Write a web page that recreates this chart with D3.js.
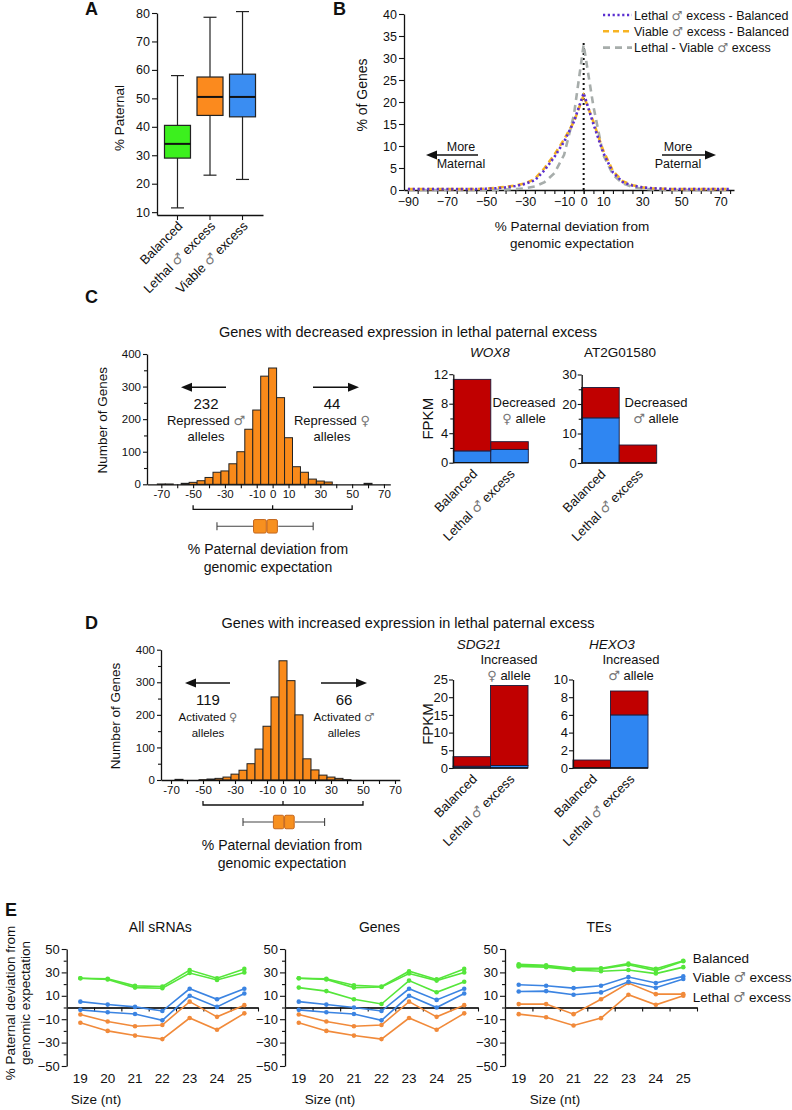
<!DOCTYPE html>
<html>
<head>
<meta charset="utf-8">
<script src="https://cdn.jsdelivr.net/npm/d3@7"></script>
<style>
  body { margin: 0; background: #fff; }
  svg text { font-family: "Liberation Sans", Arial, sans-serif; fill: #111; }
</style>
</head>
<body>
<svg id="fig" width="792" height="1110"></svg>
<script>
// ---------- panel A : boxplots of % paternal
const boxGroups = ["Balanced", "Lethal ♂ excess", "Viable ♂ excess"];
const boxLow = [11.5, 23, 21.5];
const boxQ1 = [29, 44, 43.5];
const boxMedian = [34, 50.5, 50.5];
const boxQ3 = [40.5, 57.5, 58.5];
const boxHigh = [58, 78.5, 80.5];
const aTicks = [10, 20, 30, 40, 50, 60, 70, 80];

// ---------- panel B : % of genes vs deviation
const devX = [-90, -85, -80, -75, -70, -65, -60, -55, -50, -45, -40, -35, -30, -25, -20, -15, -10, -5,
  0, 5, 10, 15, 20, 25, 30, 35, 40, 45, 50, 55, 60, 65, 70, 75];
const lethalVsBal = [0.2, 0.2, 0.2, 0.2, 0.2, 0.2, 0.2, 0.2, 0.3, 0.4, 0.6, 0.9, 1.4, 2.2, 4.5, 7.5, 11, 15.5,
  22, 15, 8.5, 4, 1.8, 1, 0.6, 0.4, 0.3, 0.2, 0.2, 0.2, 0.2, 0.2, 0.2, 0.2];
const viableVsBal = [0.2, 0.2, 0.2, 0.2, 0.2, 0.2, 0.2, 0.2, 0.3, 0.5, 0.7, 1.0, 1.5, 2.5, 5, 8, 11.5, 15.5,
  21.5, 15.5, 9, 4.3, 2, 1.1, 0.6, 0.4, 0.3, 0.2, 0.2, 0.2, 0.2, 0.2, 0.2, 0.2];
const lethalVsViable = [0, 0, 0, 0, 0, 0, 0, 0, 0, 0.05, 0.1, 0.2, 0.4, 0.8, 1.8, 3.8, 8, 17,
  33, 19, 8, 3.5, 1.5, 0.7, 0.3, 0.15, 0.1, 0, 0, 0, 0, 0, 0, 0];
const bXTicks = [-90, -70, -50, -30, -10, 0, 10, 30, 50, 70];
const bYTicks = [0, 5, 10, 15, 20, 25, 30, 35, 40];

// ---------- panels C & D : histograms
const histBins = [-70, -65, -60, -55, -50, -45, -40, -35, -30, -25, -20, -15, -10, -5,
  0, 5, 10, 15, 20, 25, 30, 35, 40, 45, 50, 55, 60];
const decCounts = [1, 1, 0, 3, 6, 11, 21, 37, 41, 63, 100, 169, 228, 332,
  357, 266, 143, 54, 37, 16, 10, 7, 0, 0, 0, 0, 3];
const incCounts = [0, 2, 0, 0, 1, 3, 5, 9, 18, 30, 50, 95, 165, 255,
  366, 305, 200, 65, 31, 15, 9, 5, 1, 0, 0, 0, 0];
const histXLabels = [-70, -50, -30, -10, 0, 10, 30, 50, 70];
const histYTicks = [0, 100, 200, 300, 400];
const decBoxStats = [-35, -12, -3.5, 3.5, 25.5];   // low, q1, median, q3, high
const incBoxStats = [-25, -6, 1, 7.5, 26];

// ---------- FPKM bars (red = maternal, blue = paternal)
const fpkmGroups = ["Balanced", "Lethal ♂ excess"];
const wox8Pat = [1.6, 1.8];
const wox8Mat = [9.7, 1.05];
const at2gPat = [15.3, 0];
const at2gMat = [10.3, 6.1];
const sdg21Pat = [0.5, 0.7];
const sdg21Mat = [2.7, 22.6];
const hexo3Pat = [0, 6];
const hexo3Mat = [0.9, 2.7];

// ---------- panel E : sRNA size classes
const sizes = [19, 20, 21, 22, 23, 24, 25];
const eYTicks = [-50, -30, -10, 10, 30, 50];
const allGreen1 = [25, 24.5, 18.5, 18, 32, 25, 33];
const allGreen2 = [25, 24, 17, 16.5, 29.5, 23.5, 30];
const allBlue1 = [5, 2.5, 0.5, -3, 16, 7, 16];
const allBlue2 = [-2, -4, -5.5, -11, 10, 0.5, 12];
const allOrange1 = [-6, -12, -16, -15, 5, -8, 2];
const allOrange2 = [-13, -20, -24, -27, -9, -19, -5];
const geneGreen1 = [25, 24.5, 19, 18, 31, 24, 33];
const geneGreen2 = [25, 24, 17, 17.5, 29, 23, 30];
const geneGreen3 = [17, 14, 7, 3, 23, 13, 22];
const geneBlue1 = [5, 2.5, 0, -3, 16, 6.5, 16];
const geneBlue2 = [-2, -4, -5.5, -11, 10, 0, 12];
const geneOrange1 = [-6, -12, -16, -15, 5, -8, 2];
const geneOrange2 = [-13, -20, -24, -27, -9, -19, -5];
const teGreen1 = [37, 36, 33.5, 33.5, 37.5, 33, 40];
const teGreen2 = [36, 35.5, 32.5, 33, 36.5, 31.5, 39.5];
const teGreen3 = [35, 34.5, 32, 31, 32, 29, 34.5];
const teBlue1 = [19.4, 18.6, 16.6, 18.6, 26, 20.9, 26.6];
const teBlue2 = [13.7, 14, 10.9, 12.9, 22, 16.9, 24.3];
const teOrange1 = [2.9, 2.9, -5.7, 7.1, 20.9, 11.4, 11.4];
const teOrange2 = [-5.7, -8.3, -15.4, -9.1, 10.9, 2.3, 10];
const eLegend = ["Balanced", "Viable ♂ excess", "Lethal ♂ excess"];

const GREEN = "#3cf01e", ORANGE = "#fb8a1e", BLUE = "#3a8df2";
const RED = "#c00000", BARBLUE = "#2f86f2";
const svg = d3.select("#fig");

// text with the sex symbols drawn lighter
function addText(g, str, x, y, size, opts = {}) {
  const t = g.append("text").attr("x", x).attr("y", y).attr("font-size", size)
    .attr("text-anchor", opts.anchor || "middle");
  if (opts.italic) t.attr("font-style", "italic");
  if (opts.bold) t.attr("font-weight", "bold");
  if (opts.rotate != null) t.attr("transform", `rotate(${opts.rotate},${x},${y})`);
  str.split(/([♂♀])/).forEach(p => {
    if (!p) return;
    const s = t.append("tspan").text(p);
    if (p === "♂" || p === "♀") s.style("fill", "#777").style("font-family", "DejaVu Sans");
  });
  return t;
}

function arrow(g, x1, x2, y) {
  const dir = Math.sign(x2 - x1);
  g.append("line").attr("x1", x1).attr("x2", x2 - dir * 8).attr("y1", y).attr("y2", y)
    .attr("stroke", "#111").attr("stroke-width", 1.5);
  g.append("path").attr("d", `M${x2},${y}L${x2 - dir * 11},${y - 4.5}L${x2 - dir * 11},${y + 4.5}Z`)
    .attr("fill", "#111");
}

function styleAxis(g, size) {
  g.attr("font-size", size);
  g.select(".domain").attr("stroke", "#111").attr("stroke-width", 1.3);
  g.selectAll(".tick line").attr("stroke", "#111").attr("stroke-width", 1.1);
  return g;
}

// ================= A
const gA = svg.append("g");
const yA = d3.scaleLinear().domain([9, 80]).range([215, 13]);
const xA = d3.scaleBand().domain(boxGroups).range([157, 263]).padding(0.26);
styleAxis(gA.append("g").attr("transform", "translate(157,0)")
  .call(d3.axisLeft(yA).tickValues(aTicks).tickSize(5).tickSizeOuter(0).tickPadding(2)), 12.5);
styleAxis(gA.append("g").attr("transform", "translate(0,215)")
  .call(d3.axisBottom(xA).tickSize(5).tickSizeOuter(0).tickFormat("")), 12);
const boxColors = [GREEN, ORANGE, BLUE];
boxGroups.forEach((name, i) => {
  const cx = xA(name) + xA.bandwidth() / 2, bw = 26;
  gA.append("line").attr("x1", cx).attr("x2", cx).attr("y1", yA(boxHigh[i])).attr("y2", yA(boxLow[i]))
    .attr("stroke", "#222").attr("stroke-width", 1.2);
  [boxHigh[i], boxLow[i]].forEach(v => gA.append("line").attr("x1", cx - 6.5).attr("x2", cx + 6.5)
    .attr("y1", yA(v)).attr("y2", yA(v)).attr("stroke", "#222").attr("stroke-width", 1.2));
  gA.append("rect").attr("x", cx - bw / 2).attr("width", bw).attr("y", yA(boxQ3[i]))
    .attr("height", yA(boxQ1[i]) - yA(boxQ3[i])).attr("fill", boxColors[i])
    .attr("stroke", "#222").attr("stroke-width", 1.2);
  gA.append("line").attr("x1", cx - bw / 2).attr("x2", cx + bw / 2).attr("y1", yA(boxMedian[i]))
    .attr("y2", yA(boxMedian[i])).attr("stroke", "#111").attr("stroke-width", 2);
  addText(gA, name, cx + 6, 227, 13, { anchor: "end", rotate: -45 });
});
addText(gA, "% Paternal", 124, 118, 13.5, { rotate: -90 });
addText(gA, "A", 85, 15, 18, { anchor: "start", bold: true });

// ================= B
const gB = svg.append("g");
const xB = d3.scaleLinear().domain([-92, 77]).range([404, 734]);
const yB = d3.scaleLinear().domain([0, 40]).range([190, 14]);
styleAxis(gB.append("g").attr("transform", "translate(404,0)")
  .call(d3.axisLeft(yB).tickValues(bYTicks).tickSize(5).tickSizeOuter(0).tickPadding(2)), 12.5);
styleAxis(gB.append("g").attr("transform", "translate(0,190)")
  .call(d3.axisBottom(xB).tickValues(devX).tickSize(4).tickSizeOuter(0).tickFormat("")), 12.5);
styleAxis(gB.append("g").attr("transform", "translate(0,190)")
  .call(d3.axisBottom(xB).tickValues(bXTicks).tickSize(4).tickSizeOuter(0).tickPadding(3)), 12.5)
  .select(".domain").remove();
gB.append("line").attr("x1", xB(0)).attr("x2", xB(0)).attr("y1", yB(0)).attr("y2", yB(33.5))
  .attr("stroke", "#111").attr("stroke-width", 2).attr("stroke-dasharray", "2,3");
const lineB = d3.line().x((d, i) => xB(devX[i])).y(d => yB(d));
const bSeries = [
  { vals: lethalVsViable, color: "#a7adab", dash: "7,5", name: "Lethal - Viable ♂ excess" },
  { vals: viableVsBal, color: "#f7b323", dash: "6,4", name: "Viable ♂ excess - Balanced" },
  { vals: lethalVsBal, color: "#5a2fd0", dash: "2.2,2.6", name: "Lethal ♂ excess - Balanced" }
];
bSeries.forEach(s => gB.append("path").attr("d", lineB(s.vals)).attr("fill", "none")
  .attr("stroke", s.color).attr("stroke-width", 2.6).attr("stroke-dasharray", s.dash));
bSeries.slice().reverse().forEach((s, i) => {
  const y = 15 + i * 16.3;
  gB.append("line").attr("x1", 603).attr("x2", 632).attr("y1", y).attr("y2", y)
    .attr("stroke", s.color).attr("stroke-width", 2.6).attr("stroke-dasharray", s.dash);
  addText(gB, s.name, 634, y + 4.5, 12.5, { anchor: "start" });
});
addText(gB, "More", 461, 151, 12.5);
addText(gB, "Maternal", 461, 168, 12.5);
arrow(gB, 478, 426, 155);
addText(gB, "More", 678, 151, 12.5);
addText(gB, "Paternal", 678, 168, 12.5);
arrow(gB, 662, 716, 155);
addText(gB, "% Paternal deviation from", 572, 231, 13.5);
addText(gB, "genomic expectation", 572, 248, 13.5);
addText(gB, "% of Genes", 367, 95, 14, { rotate: -90 });
addText(gB, "B", 333, 15, 18, { anchor: "start", bold: true });

// ================= C / D histograms
function histPanel(cfg) {
  const g = svg.append("g");
  const x = d3.scaleLinear().domain(cfg.xDomain).range(cfg.xRange);
  const y = d3.scaleLinear().domain([0, 400]).range([cfg.base, cfg.base - 130.3]);
  g.selectAll("rect.bar").data(cfg.counts).join("rect").attr("class", "bar")
    .attr("x", (d, i) => x(histBins[i] - 2.5)).attr("width", x(2.5) - x(-2.5))
    .attr("y", d => y(d)).attr("height", d => cfg.base - y(d))
    .attr("fill", "#f98a1a").attr("stroke", "#222").attr("stroke-width", 1);
  styleAxis(g.append("g").attr("transform", `translate(${cfg.xRange[0]},0)`)
    .call(d3.axisLeft(y).tickValues(histYTicks).tickSize(4).tickSizeOuter(0).tickPadding(2)), 11.5);
  styleAxis(g.append("g").attr("transform", `translate(${cfg.xRange[0]},0)`)
    .call(d3.axisLeft(y).tickValues([50, 150, 250, 350]).tickSize(3).tickFormat("")), 11)
    .select(".domain").remove();
  const xt = [-70, -60, -50, -40, -30, -20, -10, 0, 10, 20, 30, 40, 50, 60, 70];
  styleAxis(g.append("g").attr("transform", `translate(0,${cfg.base})`)
    .call(d3.axisBottom(x).tickValues(xt).tickSize(4).tickSizeOuter(0)
      .tickFormat(d => histXLabels.includes(d) ? d : "").tickPadding(2)), 11.5);
  // bracket -50..50
  const by = cfg.base + 25;
  g.append("path").attr("d", `M${x(-50)},${by - 4}V${by}H${x(50)}V${by - 4}M${x(0)},${by}V${by - 4}`)
    .attr("fill", "none").attr("stroke", "#111").attr("stroke-width", 1.3);
  // notched box
  const [lo, q1, md, q3, hi] = cfg.box, cy = cfg.base + 42, bh = 13.5;
  g.append("path").attr("d", `M${x(lo)},${cy}H${x(q1)}M${x(q3)},${cy}H${x(hi)}M${x(lo)},${cy - 4}V${cy + 4}M${x(hi)},${cy - 4}V${cy + 4}`)
    .attr("stroke", "#444").attr("stroke-width", 1.1);
  [[q1, md], [md, q3]].forEach(([a, b]) => g.append("rect").attr("x", x(a)).attr("width", x(b) - x(a) - 0.8)
    .attr("y", cy - bh / 2).attr("height", bh).attr("rx", 1.5)
    .attr("fill", "#f7901f").attr("stroke", "#c4661c").attr("stroke-width", 1));
  addText(g, "% Paternal deviation from", cfg.titleX, cfg.base + 70, 14);
  addText(g, "genomic expectation", cfg.titleX, cfg.base + 88, 14);
  addText(g, "Number of Genes", cfg.yLabX, cfg.base - 64, 13.5, { rotate: -90 });
  addText(g, cfg.title, 408, cfg.titleY, 14.5);
  addText(g, cfg.letter, 85, cfg.letterY, 18, { anchor: "start", bold: true });
  arrow(g, cfg.arrowL[0], cfg.arrowL[1], cfg.base - 97);
  arrow(g, cfg.arrowR[0], cfg.arrowR[1], cfg.base - 97);
  addText(g, cfg.nL, cfg.textL, cfg.base - 75, 15);
  addText(g, cfg.nR, cfg.textR, cfg.base - 75, 15);
  cfg.lines.forEach((ln, k) => {
    addText(g, ln[0], cfg.textL, cfg.base - 59 + k * 15.5, cfg.small);
    addText(g, ln[1], cfg.textR, cfg.base - 59 + k * 15.5, cfg.small);
  });
}
histPanel({
  counts: decCounts, box: decBoxStats, xDomain: [-79, 74], xRange: [147, 390.3], base: 484.3,
  title: "Genes with decreased expression in lethal paternal excess", titleY: 337, letter: "C", letterY: 303,
  titleX: 268, yLabX: 107, arrowL: [226, 181], arrowR: [313, 359], textL: 206, textR: 332,
  nL: "232", nR: "44", small: 13, lines: [["Repressed ♂", "Repressed ♀"], ["alleles", "alleles"]]
});
histPanel({
  counts: incCounts, box: incBoxStats, xDomain: [-76.25, 73], xRange: [161, 399.8], base: 780,
  title: "Genes with increased expression in lethal paternal excess", titleY: 627.7, letter: "D", letterY: 629,
  titleX: 282, yLabX: 120, arrowL: [230, 185], arrowR: [321, 367], textL: 208, textR: 344,
  nL: "119", nR: "66", small: 11.5, lines: [["Activated ♀", "Activated ♂"], ["alleles", "alleles"]]
});

// ================= FPKM stacked bars
function fpkmPanel(cfg) {
  const g = svg.append("g");
  const x = d3.scaleBand().domain(fpkmGroups).range([cfg.x0, cfg.x0 + 75]);
  const y = d3.scaleLinear().domain([0, cfg.max]).range([cfg.base, cfg.base - 88.5]);
  const stacked = fpkmGroups.map((k, i) => ({ k, pat: cfg.pat[i], mat: cfg.mat[i] }));
  const series = d3.stack().keys(["pat", "mat"])(stacked);
  series.forEach(s => g.append("g").selectAll("rect").data(s).join("rect")
    .attr("x", d => x(d.data.k)).attr("width", x.bandwidth())
    .attr("y", d => y(d[1])).attr("height", d => y(d[0]) - y(d[1]))
    .attr("fill", s.key === "pat" ? BARBLUE : RED).attr("stroke", "#1a1a3a").attr("stroke-width", 0.9));
  styleAxis(g.append("g").attr("transform", `translate(${cfg.x0},0)`)
    .call(d3.axisLeft(y).tickValues(cfg.ticks).tickSize(4).tickSizeOuter(0).tickPadding(1)), 13);
  if (cfg.minor) styleAxis(g.append("g").attr("transform", `translate(${cfg.x0},0)`)
    .call(d3.axisLeft(y).tickValues(cfg.minor).tickSize(3).tickFormat("")), 12).select(".domain").remove();
  g.append("line").attr("x1", cfg.x0).attr("x2", cfg.x0 + 75).attr("y1", cfg.base).attr("y2", cfg.base)
    .attr("stroke", "#111").attr("stroke-width", 1.3);
  fpkmGroups.forEach(k => addText(g, k, x(k) + x.bandwidth() / 2 + 6, cfg.base + 12, 13, { anchor: "end", rotate: -45 }));
  addText(g, cfg.gene, cfg.geneX, cfg.geneY, 13.5, { italic: cfg.italic });
  addText(g, cfg.note[0], cfg.noteX, cfg.noteY, 13);
  addText(g, cfg.note[1], cfg.noteX, cfg.noteY + 15.5, 13);
  if (cfg.fpkm) addText(g, "FPKM", cfg.x0 - 20, cfg.base - 44, 15, { rotate: -90 });
}
fpkmPanel({ x0: 453.3, base: 462.7, max: 12, ticks: [0, 4, 8, 12], minor: [2, 6, 10], pat: wox8Pat, mat: wox8Mat,
  gene: "WOX8", geneX: 490, geneY: 357, italic: true, note: ["Decreased", "♀ allele"], noteX: 524, noteY: 407, fpkm: true });
fpkmPanel({ x0: 581.7, base: 463, max: 30, ticks: [0, 10, 20, 30], minor: [5, 15, 25], pat: at2gPat, mat: at2gMat,
  gene: "AT2G01580", geneX: 620, geneY: 357, italic: false, note: ["Decreased", "♂ allele"], noteX: 656, noteY: 407 });
fpkmPanel({ x0: 453, base: 768, max: 25, ticks: [0, 5, 10, 15, 20, 25], pat: sdg21Pat, mat: sdg21Mat,
  gene: "SDG21", geneX: 479, geneY: 649, italic: true, note: ["Increased", "♀ allele"], noteX: 509, noteY: 664, fpkm: true });
fpkmPanel({ x0: 573, base: 768, max: 10, ticks: [0, 2, 4, 6, 8, 10], pat: hexo3Pat, mat: hexo3Mat,
  gene: "HEXO3", geneX: 612, geneY: 649, italic: true, note: ["Increased", "♂ allele"], noteX: 631, noteY: 664 });

// ================= E
const yE = d3.scaleLinear().domain([-50, 50]).range([1066, 949]);
function sizePanel(x0, x1, title, series, sizeX, legend) {
  const g = svg.append("g");
  const x = d3.scaleLinear().domain([18.5, 25.5]).range([x0, x1]);
  styleAxis(g.append("g").attr("transform", `translate(${x0},0)`)
    .call(d3.axisLeft(yE).tickValues(eYTicks).tickSize(5).tickSizeOuter(0).tickPadding(2)), 13);
  styleAxis(g.append("g").attr("transform", `translate(${x0},0)`)
    .call(d3.axisLeft(yE).tickValues([-40, -20, 0, 20, 40]).tickSize(3).tickFormat("")), 12)
    .select(".domain").remove();
  styleAxis(g.append("g").attr("transform", `translate(0,${yE(0)})`)
    .call(d3.axisBottom(x).tickValues([19.5, 20.5, 21.5, 22.5, 23.5, 24.5, 25.5]).tickSize(4)
      .tickSizeOuter(0).tickFormat("")), 12)
    .select(".domain").attr("stroke", "#333").attr("stroke-width", 1.8);
  const line = d3.line().x((d, i) => x(sizes[i])).y(d => yE(d));
  series.forEach(s => {
    g.append("path").attr("d", line(s.vals)).attr("fill", "none").attr("stroke", s.color).attr("stroke-width", 1.6);
    g.selectAll(null).data(s.vals).join("circle").attr("cx", (d, i) => x(sizes[i])).attr("cy", d => yE(d))
      .attr("r", 2.3).attr("fill", s.color);
  });
  sizes.forEach(v => addText(g, String(v), x(v), 1083, 13.5));
  addText(g, "Size (nt)", sizeX, 1104, 13.5);
  addText(g, title, (x0 + x1) / 2 - 2, 932, 14);
  if (legend) legend.forEach((t, i) => addText(g, t, 692.7, 963 + i * 19.4, 13.5, { anchor: "start" }));
}
const EG = "#55e63a", EB = "#3b84e2", EO = "#f18a3a";
sizePanel(66.7, 258, "All sRNAs", [
  { vals: allOrange2, color: EO }, { vals: allOrange1, color: EO },
  { vals: allBlue2, color: EB }, { vals: allBlue1, color: EB },
  { vals: allGreen2, color: EG }, { vals: allGreen1, color: EG }], 96);
sizePanel(285, 478, "Genes", [
  { vals: geneOrange2, color: EO }, { vals: geneOrange1, color: EO },
  { vals: geneBlue2, color: EB }, { vals: geneBlue1, color: EB },
  { vals: geneGreen3, color: EG }, { vals: geneGreen2, color: EG }, { vals: geneGreen1, color: EG }], 330);
sizePanel(505, 697, "TEs", [
  { vals: teOrange2, color: EO }, { vals: teOrange1, color: EO },
  { vals: teBlue2, color: EB }, { vals: teBlue1, color: EB },
  { vals: teGreen3, color: EG }, { vals: teGreen2, color: EG }, { vals: teGreen1, color: EG }], 555, eLegend);
addText(svg, "% Paternal deviation from", 15, 1003, 13.5, { rotate: -90 });
addText(svg, "genomic expectation", 30, 1003, 13.5, { rotate: -90 });
addText(svg, "E", 5, 916, 18, { anchor: "start", bold: true });
</script>
</body>
</html>
